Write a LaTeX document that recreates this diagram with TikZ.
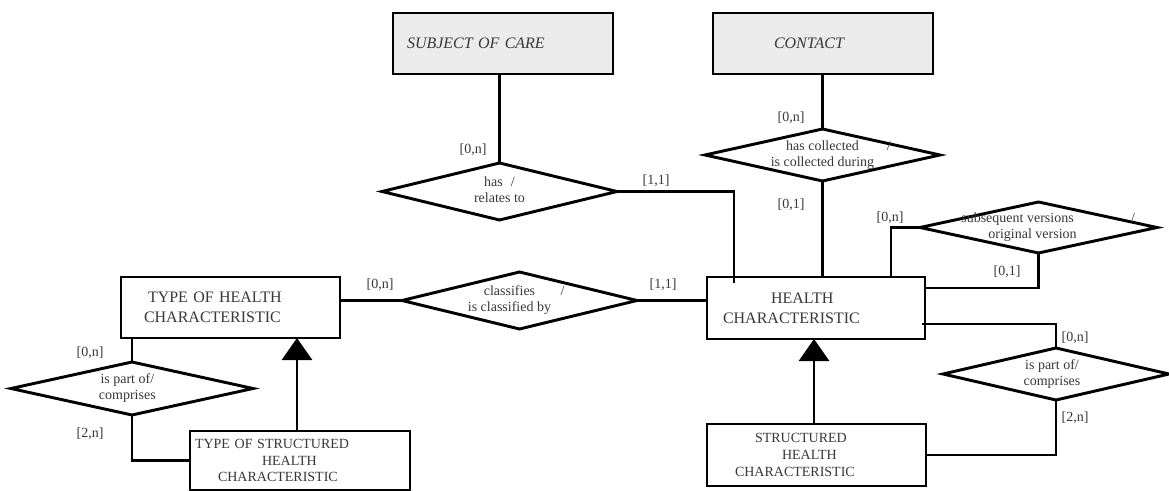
\documentclass[tikz,border=0pt]{standalone}
\usepackage{fontspec}
\setmainfont{Liberation Serif}
\usetikzlibrary{shapes.geometric,arrows.meta,calc}
\definecolor{inkgray}{gray}{0.22}
\definecolor{shade}{RGB}{236,236,236}
% two-line relationship text that does not enlarge its diamond
\newcommand\reltext[1]{\raisebox{-2.6pt}[0pt][0pt]{\makebox[0pt]{\begin{tabular}{@{}c@{}}#1\end{tabular}}}}
\begin{document}
\begin{tikzpicture}[x=0.75pt,y=-0.75pt,
  every node/.style={outer sep=0pt, text=inkgray},
  box/.style={draw=black, line width=2.2pt, rectangle, fill=white, inner xsep=3pt, inner ysep=2pt,
    align=left, font=\fontsize{12}{15}\selectfont},
  refbox/.style={box, fill=shade, font=\fontsize{12}{15}\selectfont\itshape},
  smallbox/.style={box, font=\fontsize{10.5}{12.5}\selectfont},
  rel/.style={draw=black, line width=2.2pt, diamond, fill=white, inner sep=0pt,
    font=\fontsize{10.5}{12}\selectfont},
  card/.style={font=\fontsize{10.5}{12}\selectfont, inner sep=0pt},
  link/.style={line width=2.2pt, draw=black},
  isa/.style={link, -{Triangle[width=22.5pt,length=16.5pt]}}
]
\useasboundingbox (0,0) rectangle (1169,491);

% entities
\node[refbox, minimum width=165pt, minimum height=45.75pt, text width=159pt] (soc) at (503,43.5)
  {\hspace*{7.5pt}SUBJECT OF CARE};
\node[refbox, minimum width=165pt, minimum height=45.75pt, text width=159pt] (contact) at (823,43.5)
  {\hspace*{42.75pt}CONTACT};
\node[box, minimum width=164.25pt, minimum height=45.75pt, text width=158.25pt] (thc) at (230.5,307.5)
  {\hspace*{17.25pt}TYPE OF HEALTH\\\hspace*{14.25pt}CHARACTERISTIC};
\node[box, minimum width=163.5pt, minimum height=46.5pt, text width=157.5pt] (hc) at (816,308)
  {\hspace*{45pt}HEALTH\\\hspace*{9pt}CHARACTERISTIC};
\node[smallbox, minimum width=165pt, minimum height=44.25pt, text width=159pt] (tshc) at (300,460.5)
  {\hspace*{0.75pt}TYPE OF STRUCTURED\\\hspace*{51pt}HEALTH\\\hspace*{18pt}CHARACTERISTIC};
\node[smallbox, minimum width=164.25pt, minimum height=46.5pt, text width=158.25pt] (shc) at (816.5,455)
  {\hspace*{33pt}STRUCTURED\\\hspace*{53.25pt}HEALTH\\\hspace*{18pt}CHARACTERISTIC};

% relationships
\node[rel, minimum width=176.25pt, minimum height=42.75pt] (hasrel) at (499.5,191.5)
  {\reltext{has\hspace{6pt}/\\relates to}};
\node[rel, minimum width=176.25pt, minimum height=39pt] (hascol) at (822.5,155)
  {\reltext{has collected\rlap{\hspace{21pt}/}\\is collected during}};
\node[rel, minimum width=177.75pt, minimum height=38.25pt] (subseq) at (1038.5,227.5)
  {\reltext{subsequent versions\rlap{\hspace{43pt}/}\kern31.5pt\\original version\kern9pt}};
\node[rel, minimum width=176.25pt, minimum height=42.75pt] (class) at (519.5,300.5)
  {\reltext{classifies\rlap{\hspace{19pt}/}\kern15pt\\is classified by\kern15pt}};
\node[rel, minimum width=181.5pt, minimum height=39.75pt] (lpart) at (132,388.5)
  {\reltext{is part of/\kern7pt\\comprises\kern7pt}};
\node[rel, minimum width=169.5pt, minimum height=39pt] (rpart) at (1056,374)
  {\reltext{is part of/\kern6pt\\comprises\kern6pt}};

% connectors
\draw[link] (hasrel.north |- soc.south) -- (hasrel.north);
\draw[link] (hasrel.east) -| ($(hc.north west)+(27,6)$);
\draw[link] (hascol.north |- contact.south) -- (hascol.north);
\draw[link] (hascol.south) -- (hascol.south |- hc.north);
\draw[link] ($(hc.north east)+(-34,0)$) |- (subseq.west);
\draw[link] (subseq.south) |- ($(hc.north east)+(0,11)$);
\draw[link] ($(hc.south east)+(-3,-15)$) -| (rpart.north);
\draw[link] (rpart.south) |- (shc.east);
\draw[link] (class.west -| thc.east) -- (class.west);
\draw[link] (class.east) -- (class.east -| hc.west);
\draw[link] (lpart.north |- thc.south) -- (lpart.north);
\draw[link] (lpart.south) |- (tshc.west);
\draw[isa] ($(shc.north)+(-2.5,0)$) -- ($(hc.south)+(-2,0)$);
\draw[isa] ($(tshc.north)+(-3,0)$) -- ($(tshc.north |- thc.south)+(-3,0)$);

% cardinalities
\node[card] (k1) at (473,150) {[0,n]};
\node[card] (k2) at (656,181) {[1,1]};
\node[card] (k3) at (791,118) {[0,n]};
\node[card] (k4) at (791,205) {[0,1]};
\node[card] (k5) at (890,218) {[0,n]};
\node[card] (k6) at (1007,272) {[0,1]};
\node[card] (k7) at (380,285) {[0,n]};
\node[card] (k8) at (663,285) {[1,1]};
\node[card] (k9) at (90,353) {[0,n]};
\node[card] (k10) at (90,434) {[2,n]};
\node[card] (k11) at (1075,338) {[0,n]};
\node[card] (k12) at (1075,418) {[2,n]};
\end{tikzpicture}
\end{document}
